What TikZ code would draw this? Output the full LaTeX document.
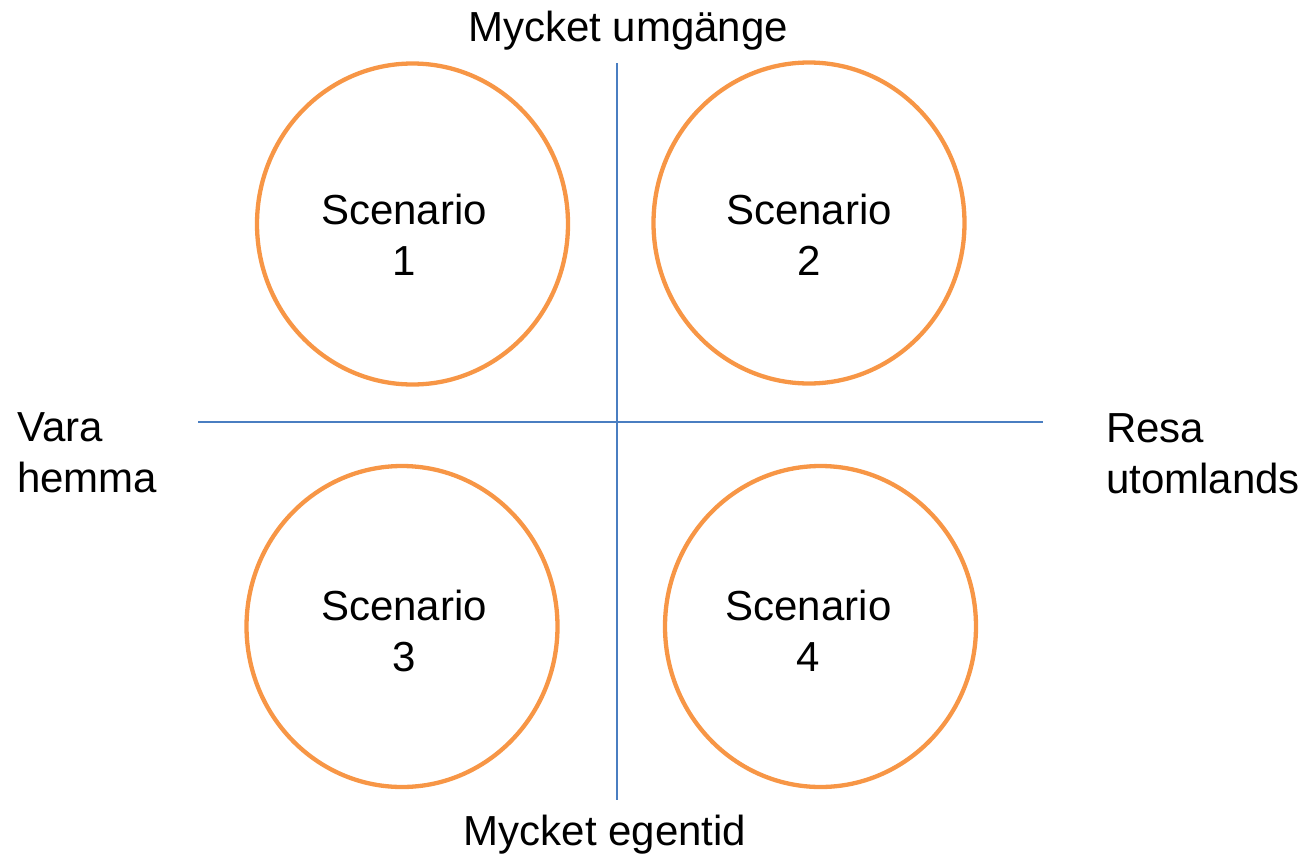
\documentclass[tikz,border=0pt]{standalone}
\usepackage{fontspec}
\setmainfont{Liberation Sans}
\definecolor{axisblue}{HTML}{4A7EC1}
\definecolor{scenorange}{HTML}{F79646}
\tikzset{
  axis/.style={draw=axisblue, line width=2pt},
  scen/.style={draw=scenorange, line width=4.3pt, ellipse},
  lbl/.style={font=\fontsize{42}{51}\selectfont, align=center, anchor=base, inner sep=0pt},
  side/.style={font=\fontsize{42}{51}\selectfont, align=left, anchor=base west, inner sep=0pt},
}
\usetikzlibrary{shapes.geometric}
\begin{document}
\begin{tikzpicture}[x=1pt, y=-1pt]
  \useasboundingbox (0,0) rectangle (1307,860);
  % axes
  \coordinate (top) at (617,63);
  \coordinate (bottom) at (617,800);
  \coordinate (left) at (198,422);
  \coordinate (right) at (1043,422);
  \draw[axis] (top) -- (bottom);
  \draw[axis] (left) -- (right);
  % scenario circles
  \node[scen, minimum width=311pt, minimum height=321pt] (c1) at (412.5,224) {};
  \node[scen, minimum width=311pt, minimum height=321pt] (c2) at (809,223) {};
  \node[scen, minimum width=311pt, minimum height=321pt] (c3) at (402,626.5) {};
  \node[scen, minimum width=311pt, minimum height=321pt] (c4) at (820.5,626.5) {};
  % scenario labels (anchored at the baseline of the last line)
  \node[lbl] (s1) at (404,275) {Scenario\\1};
  \node[lbl] (s2) at (809,275) {Scenario\\2};
  \node[lbl] (s3) at (404,671) {Scenario\\3};
  \node[lbl] (s4) at (808.5,671) {Scenario\\4};
  % axis labels
  \node[lbl] (up) at (628,41) {Mycket umgänge};
  \node[lbl] (down) at (605,845) {Mycket egentid};
  \node[side] (home) at (17,492) {Vara\\hemma};
  \node[side] (abroad) at (1106,493) {Resa\\utomlands};
\end{tikzpicture}
\end{document}
